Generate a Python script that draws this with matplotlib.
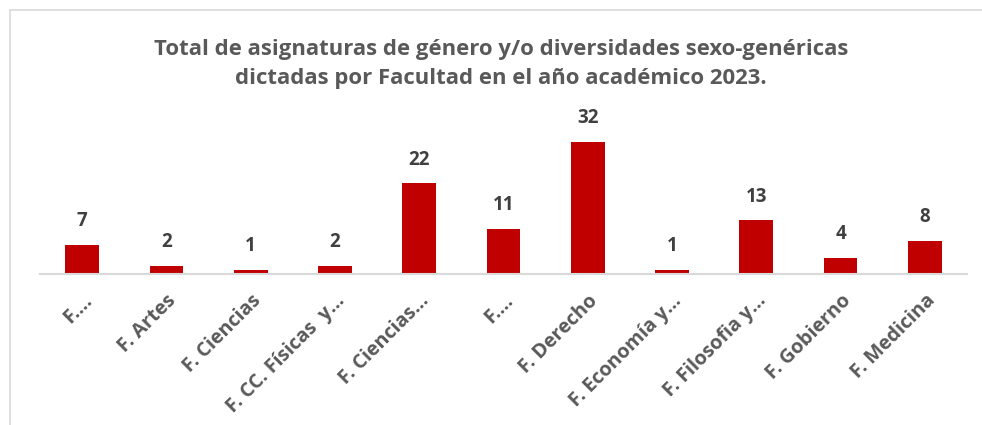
import matplotlib.pyplot as plt
from matplotlib.patches import Rectangle

categories = ["F.…", "F. Artes", "F. Ciencias", "F. CC. Físicas  y…", "F. Ciencias…",
              "F.…", "F. Derecho", "F. Economía y…", "F. Filosofia y…", "F. Gobierno",
              "F. Medicina"]
values = [7, 2, 1, 2, 22, 11, 32, 1, 13, 4, 8]

title = ("Total de asignaturas de género y/o diversidades sexo-genéricas\n"
         "dictadas por Facultad en el año académico 2023.")

plt.rcParams["font.family"] = ["Open Sans", "DejaVu Sans"]

fig = plt.figure(figsize=(9.82, 4.25), dpi=100)
fig.patches.append(Rectangle((10 / 982, -0.1), 1.0, 1 - 10.5 / 425 + 0.1,
                             transform=fig.transFigure, fill=False,
                             edgecolor="#d9d9d9", linewidth=1.2))

ax = fig.add_axes([40 / 982, 1 - 274 / 425, 927 / 982, 142 / 425])
x = range(len(values))
ax.bar(x, values, width=0.4, color="#c00000", zorder=2)
for xi, v in zip(x, values):
    ax.annotate(str(v), (xi, v), xytext=(0, 10), textcoords="offset points",
                ha="center", va="bottom", fontsize=13.5, fontweight="bold",
                color="#404040", clip_on=False)

ax.set_xlim(-0.5, len(values) - 0.5)
ax.set_ylim(0, 34.5)
ax.set_yticks([])
for side in ["top", "right", "left"]:
    ax.spines[side].set_visible(False)
ax.spines["bottom"].set_color("#d9d9d9")
ax.spines["bottom"].set_linewidth(1.5)
ax.set_xticks(list(x))
ax.set_xticklabels(categories, rotation=45, ha="right", rotation_mode="anchor",
                   fontsize=14.2, fontweight="bold", color="#595959")
ax.tick_params(axis="x", length=0, pad=12)

fig.text(0.51, 1 - 64 / 425, title, ha="center", va="center", fontsize=15.9,
         fontweight="bold", color="#595959", linespacing=1.55)

fig.savefig("out.png", dpi=100)
